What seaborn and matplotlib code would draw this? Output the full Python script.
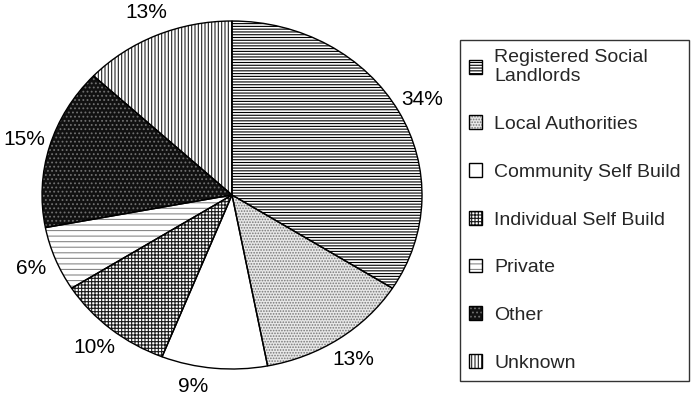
import matplotlib.patches as mpatches
import matplotlib.pyplot as plt
import seaborn as sns

# share of completions by developer type (%)
sectors = [
    "Registered Social\nLandlords",
    "Local Authorities",
    "Community Self Build",
    "Individual Self Build",
    "Private",
    "Other",
    "Unknown",
]
shares = [34, 13, 9, 10, 6, 15, 13]

# black & white print style: fill, hatch pattern, hatch colour
fills = ["white", "#e8e8e8", "white", "white", "white", "#111111", "white"]
hatches = ["------", "......", "", "+++++", "---", "....", "|||||"]
hatch_cols = ["black", "#777777", "black", "#1a1a1a", "#888888", "#707070", "#222222"]

sns.set_theme(style="white")
plt.rcParams["font.family"] = ["Liberation Sans", "DejaVu Sans"]
plt.rcParams["hatch.linewidth"] = 0.8

fig = plt.figure(figsize=(6.93, 4.0), dpi=100)
ax = fig.add_axes([-0.0079, -0.03125, 0.6854, 1.0875])

wedges, texts, pcts = ax.pie(
    shares,
    startangle=90,
    counterclock=False,
    autopct=lambda p: f"{p:.0f}%",
    pctdistance=1.14,
    wedgeprops=dict(linewidth=0),
    textprops=dict(fontsize=15, color="black"),
)
for w, fc, h, hc in zip(wedges, fills, hatches, hatch_cols):
    w.set_facecolor(fc)
    w.set_hatch(h)
    w.set_edgecolor(hc)

# pull the bottom label in a little so it stays inside the figure
for t in pcts:
    x, y = t.get_position()
    if y < -1.0:
        t.set_position((x - 0.1, y * 0.97))

# outlines on top
ax.pie(
    shares,
    startangle=90,
    counterclock=False,
    wedgeprops=dict(fill=False, edgecolor="black", linewidth=1.0),
)
ax.set_aspect("auto")
ax.set_xlim(-1.25, 1.25)
ax.set_ylim(-1.25, 1.25)

handles = [
    (
        mpatches.Patch(facecolor=fc, hatch=h, edgecolor=hc, linewidth=0),
        mpatches.Patch(fill=False, edgecolor="black", linewidth=1.0),
    )
    for fc, h, hc in zip(fills, hatches, hatch_cols)
]
leg = fig.legend(
    handles,
    sectors,
    loc="upper left",
    bbox_to_anchor=(460 / 693, 1 - 40 / 400),
    borderaxespad=0,
    frameon=True,
    fancybox=False,
    edgecolor="black",
    fontsize=14,
    handlelength=0.7,
    handleheight=0.7,
    handletextpad=0.6,
    labelspacing=1.55,
    borderpad=0.45,
)
leg.get_frame().set_linewidth(1.0)

fig.savefig("out.png", dpi=100)
